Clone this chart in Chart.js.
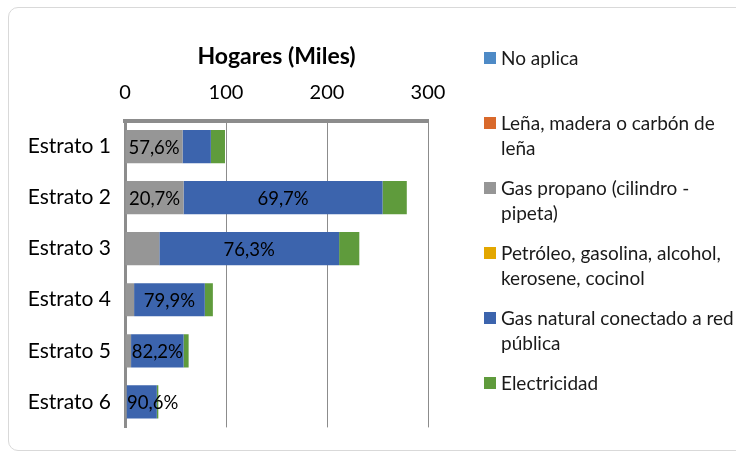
<!DOCTYPE html>
<html>
<head>
<meta charset="utf-8">
<script src="https://cdn.jsdelivr.net/npm/chart.js@4.4.0/dist/chart.umd.min.js"></script>
<style>
  body { margin: 0; background: #fff; font-family: Lato, sans-serif; }
  #wrap { position: relative; width: 736px; height: 454px; overflow: hidden; }
  #frame { position: absolute; left: 8px; top: 7px; width: 740px; height: 444px;
           border: 1px solid #d9d9d9; border-radius: 10px; box-sizing: border-box; }
  #chart { position: absolute; left: 0; top: 0; }
  #legend { position: absolute; left: 484px; top: 45px; width: 280px; color: #1a1a1a; font-size: 19px; }
  .item { height: 65px; display: flex; align-items: flex-start; }
  .sw { width: 12px; height: 12px; margin-top: 7px; margin-right: 5px; flex: none; }
  .txt { line-height: 25px; white-space: nowrap; }
</style>
</head>
<body>
<div id="wrap">
  <div id="frame"></div>
  <canvas id="chart" width="736" height="454"></canvas>
  <div id="legend"></div>
</div>
<script>
// Hogares (miles) por estrato y fuente de energía para cocinar
const estratos = ['Estrato 1', 'Estrato 2', 'Estrato 3', 'Estrato 4', 'Estrato 5', 'Estrato 6'];

const noAplica    = [0, 0, 0, 0, 0, 0];
const lena        = [0, 0, 0, 0, 0, 0];
const gasPropano  = [57, 58, 34, 9, 6, 1.5];
const petroleo    = [0, 0, 0, 0, 0, 0];
const gasNatural  = [28, 197, 178, 70, 52, 30];
const electricidad = [14, 24, 20, 8, 5, 1.5];

// porcentajes mostrados sobre las barras
const gasPropanoLabels = ['57,6%', '20,7%', '', '', '', ''];
const gasNaturalLabels = ['', '69,7%', '76,3%', '79,9%', '82,2%', '90,6%'];

const xTicks = [0, 100, 200, 300];

const series = [
  { label: 'No aplica', lines: ['No aplica'], data: noAplica, color: '#4e8ac6', labels: null },
  { label: 'Leña, madera o carbón de leña', lines: ['Leña, madera o carbón de', 'leña'], data: lena, color: '#d9692b', labels: null },
  { label: 'Gas propano (cilindro - pipeta)', lines: ['Gas propano (cilindro -', 'pipeta)'], data: gasPropano, color: '#969696', labels: gasPropanoLabels },
  { label: 'Petróleo, gasolina, alcohol, kerosene, cocinol', lines: ['Petróleo, gasolina, alcohol,', 'kerosene, cocinol'], data: petroleo, color: '#e3a700', labels: null },
  { label: 'Gas natural conectado a red pública', lines: ['Gas natural conectado a red', 'pública'], data: gasNatural, color: '#3c64ad', labels: gasNaturalLabels },
  { label: 'Electricidad', lines: ['Electricidad'], data: electricidad, color: '#5f9b3c', labels: null }
];

// etiquetas de datos centradas en cada segmento (sin salirse del eje)
const segmentLabels = {
  id: 'segmentLabels',
  afterDatasetsDraw(chart) {
    const ctx = chart.ctx;
    const left = chart.chartArea.left;
    ctx.save();
    ctx.font = '18.5px Lato';
    ctx.fillStyle = '#000';
    ctx.textAlign = 'center';
    ctx.textBaseline = 'middle';
    chart.data.datasets.forEach((ds, i) => {
      if (!ds.segLabels) return;
      chart.getDatasetMeta(i).data.forEach((bar, j) => {
        const t = ds.segLabels[j];
        if (!t) return;
        const w = ctx.measureText(t).width;
        const x = Math.max((bar.x + bar.base) / 2, left + w / 2 + 2);
        ctx.fillText(t, x, bar.y + 1);
      });
    });
    ctx.restore();
  }
};

const gridColor = '#8c8c8c';

new Chart(document.getElementById('chart'), {
  type: 'bar',
  data: {
    labels: estratos,
    datasets: series.map(s => ({
      label: s.label,
      data: s.data,
      backgroundColor: s.color,
      segLabels: s.labels,
      categoryPercentage: 1,
      barPercentage: 0.65
    }))
  },
  options: {
    indexAxis: 'y',
    responsive: false,
    animation: false,
    layout: { padding: { left: 20, right: 308, top: 38, bottom: 24 } },
    plugins: { legend: { display: false }, tooltip: { enabled: false } },
    scales: {
      x: {
        position: 'top',
        stacked: true,
        min: 0,
        max: 300,
        afterBuildTicks: (s) => { s.ticks = xTicks.map(v => ({ value: v })); },
        afterFit: (s) => { s.height = 83; },
        title: { display: true, text: 'Hogares (Miles)', color: '#000',
                 font: { family: 'Lato', size: 23, weight: 'bold' }, padding: { top: 5, bottom: 2 } },
        ticks: { color: '#000', font: { family: 'Lato', size: 20 }, padding: 16 },
        grid: { color: gridColor, lineWidth: 1, drawTicks: false },
        border: { color: gridColor, width: 4 }
      },
      y: {
        stacked: true,
        afterFit: (s) => { s.width = 105; },
        ticks: { color: '#000', font: { family: 'Lato', size: 21 }, padding: 14 },
        grid: { display: false, drawTicks: false },
        border: { color: gridColor, width: 3 }
      }
    }
  },
  plugins: [segmentLabels]
});

// leyenda a la derecha
const legend = document.getElementById('legend');
series.forEach(s => {
  const item = document.createElement('div');
  item.className = 'item';
  item.innerHTML = '<span class="sw" style="background:' + s.color + '"></span><span class="txt">' +
    s.lines.join('<br>') + '</span>';
  legend.appendChild(item);
});
</script>
</body>
</html>
